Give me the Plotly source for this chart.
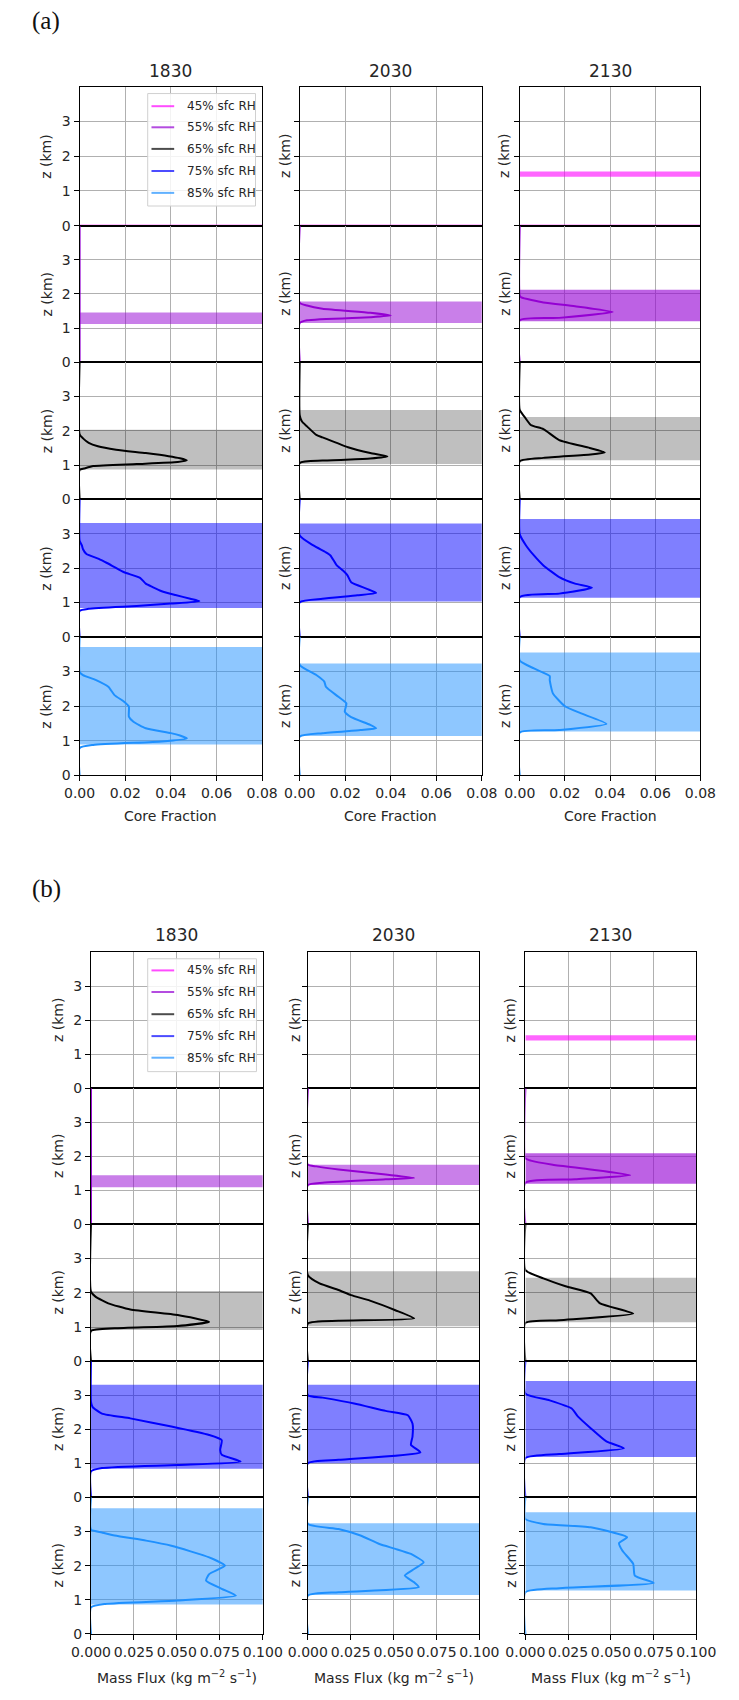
import plotly.graph_objects as go

W, H = 739, 1700

# ---------------- data ----------------
times = ["1830", "2030", "2130"]
rh_labels = ["45% sfc RH", "55% sfc RH", "65% sfc RH", "75% sfc RH", "85% sfc RH"]
line_colors = ["#ff00ff", "#9400d3", "#000000", "#0000ff", "#1e90ff"]
legend_colors = ["rgba(255,0,255,0.7)", "rgba(148,0,211,0.7)", "rgba(0,0,0,0.7)",
                 "rgba(0,0,255,0.7)", "rgba(30,144,255,0.7)"]
band_colors = ["rgba(255,0,255,0.6)", "rgba(148,0,211,0.5)", "rgba(0,0,0,0.25)",
               "rgba(0,0,255,0.5)", "rgba(30,144,255,0.5)"]
band_colors_late = ["rgba(255,0,255,0.6)", "rgba(148,0,211,0.62)", "rgba(0,0,0,0.25)",
                    "rgba(0,0,255,0.5)", "rgba(30,144,255,0.5)"]

cf_ticks = [0, 0.02, 0.04, 0.06, 0.08]
cf_tick_text = ["0.00", "0.02", "0.04", "0.06", "0.08"]
mf_ticks = [0, 0.025, 0.05, 0.075, 0.1]
mf_tick_text = ["0.000", "0.025", "0.050", "0.075", "0.100"]
z_ticks = [0, 1, 2, 3]

# profiles with no cloud: zero everywhere
zero_z = [0, 4]
zero_v = [0, 0]
# 45% RH profile collapses onto the surface
flat_z = [0, 0]
flat_v = [0, 0.1]

# cloud layer bands (base, top) in km, rows = 45,55,65,75,85 % RH
cf_base_1830 = [None, 1.12, 0.87, 0.84, 0.89]
cf_top_1830 = [None, 1.46, 2.03, 3.31, 3.71]
cf_base_2030 = [None, 1.15, 1.03, 1.03, 1.14]
cf_top_2030 = [None, 1.78, 2.61, 3.30, 3.23]
cf_base_2130 = [1.41, 1.20, 1.14, 1.14, 1.27]
cf_top_2130 = [1.56, 2.12, 2.40, 3.43, 3.55]
mf_base_1830 = [None, 1.09, 0.91, 0.84, 0.86]
mf_top_1830 = [None, 1.44, 2.05, 3.31, 3.68]
mf_base_2030 = [None, 1.15, 1.02, 1.00, 1.14]
mf_top_2030 = [None, 1.75, 2.63, 3.31, 3.24]
mf_base_2130 = [1.40, 1.19, 1.14, 1.18, 1.27]
mf_top_2130 = [1.56, 2.09, 2.44, 3.42, 3.56]

# core fraction profiles
cf_1830_65_z = [0, 0.86, 0.90, 0.97, 1.03, 1.09, 1.14, 1.20, 1.26, 1.35, 1.45, 1.55, 1.65, 1.78, 1.90, 4]
cf_1830_65_v = [0, 0, 0.002, 0.006, 0.025, 0.043, 0.047, 0.044, 0.039, 0.029, 0.016, 0.008, 0.004, 0.0015, 0, 0]
cf_1830_75_z = [0, 0.76, 0.82, 0.90, 0.97, 1.04, 1.11, 1.22, 1.33, 1.45, 1.55, 1.72, 1.88, 2.03, 2.15, 2.27, 2.41, 2.55, 2.66, 2.80, 4]
cf_1830_75_v = [0, 0, 0.004, 0.025, 0.040, 0.0525, 0.0485, 0.042, 0.036, 0.032, 0.029, 0.0265, 0.0195, 0.0153, 0.012, 0.0084, 0.003, 0.0015, 0.001, 0, 0]
cf_1830_85_z = [0, 0.79, 0.88, 0.98, 1.07, 1.15, 1.22, 1.36, 1.55, 1.70, 1.99, 2.13, 2.32, 2.56, 2.76, 2.90, 2.99, 4]
cf_1830_85_v = [0, 0, 0.006, 0.036, 0.047, 0.044, 0.040, 0.029, 0.0236, 0.0216, 0.0216, 0.0195, 0.0153, 0.0126, 0.007, 0.0015, 0, 0]

cf_2030_55_z = [0, 1.15, 1.23, 1.32, 1.37, 1.45, 1.57, 1.66, 1.74, 4]
cf_2030_55_v = [0, 0, 0.0032, 0.031, 0.040, 0.031, 0.010, 0.0032, 0, 0]
cf_2030_65_z = [0, 1.06, 1.13, 1.19, 1.25, 1.35, 1.52, 1.81, 1.88, 2.13, 2.27, 2.46, 4]
cf_2030_65_v = [0, 0, 0.010, 0.031, 0.0385, 0.031, 0.0212, 0.010, 0.0073, 0.0032, 0.001, 0, 0]
cf_2030_75_z = [0, 1.01, 1.11, 1.21, 1.28, 1.40, 1.59, 1.79, 1.93, 2.08, 2.37, 2.46, 2.66, 2.95, 4]
cf_2030_75_v = [0, 0, 0.010, 0.0253, 0.0336, 0.0295, 0.0226, 0.021, 0.019, 0.0163, 0.0135, 0.0115, 0.006, 0, 0]
cf_2030_85_z = [0, 1.12, 1.22, 1.31, 1.36, 1.46, 1.68, 1.84, 2.08, 2.27, 2.56, 2.71, 2.90, 3.19, 4]
cf_2030_85_v = [0, 0, 0.010, 0.0267, 0.0336, 0.031, 0.0226, 0.0198, 0.0205, 0.017, 0.0115, 0.0108, 0.0073, 0, 0]

cf_2130_55_z = [0, 1.23, 1.30, 1.47, 1.64, 1.75, 1.90, 1.95, 4]
cf_2130_55_v = [0, 0, 0.0175, 0.0412, 0.0245, 0.0105, 0.0007, 0, 0]
cf_2130_65_z = [0, 1.11, 1.21, 1.31, 1.37, 1.50, 1.73, 2.05, 2.17, 2.42, 2.61, 4]
cf_2130_65_v = [0, 0, 0.0105, 0.0314, 0.0377, 0.031, 0.0175, 0.0105, 0.0049, 0.002, 0, 0]
cf_2130_75_z = [0, 1.16, 1.26, 1.43, 1.55, 1.74, 2.08, 2.37, 2.66, 2.99, 4]
cf_2130_75_v = [0, 0, 0.0175, 0.032, 0.0245, 0.0175, 0.0105, 0.0063, 0.0028, 0, 0]
cf_2130_85_z = [0, 1.24, 1.31, 1.49, 1.79, 1.99, 2.37, 2.75, 2.87, 3.09, 3.32, 4]
cf_2130_85_v = [0, 0, 0.0175, 0.0384, 0.0272, 0.0202, 0.0147, 0.0133, 0.0133, 0.0063, 0, 0]

# mass flux profiles
mf_1830_65_z = [0, 0.88, 0.96, 1.03, 1.15, 1.35, 1.51, 1.69, 1.88, 2.03, 4]
mf_1830_65_v = [0, 0, 0.0138, 0.0505, 0.0688, 0.0505, 0.0229, 0.0101, 0.0028, 0, 0]
mf_1830_75_z = [0, 0.76, 0.86, 0.95, 1.05, 1.25, 1.39, 1.68, 1.83, 2.08, 2.32, 2.46, 2.66, 2.81, 4]
mf_1830_75_v = [0, 0, 0.0064, 0.0505, 0.0871, 0.0761, 0.0752, 0.0761, 0.0688, 0.0468, 0.0229, 0.0064, 0.0009, 0, 0]
mf_1830_85_z = [0, 0.78, 0.88, 0.98, 1.12, 1.32, 1.56, 1.75, 2.00, 2.24, 2.58, 2.73, 2.88, 2.97, 3.05, 4]
mf_1830_85_v = [0, 0, 0.0083, 0.0505, 0.0844, 0.0761, 0.0670, 0.0688, 0.0780, 0.0688, 0.0468, 0.0321, 0.0138, 0.0064, 0, 0]

mf_2030_55_z = [0, 1.15, 1.22, 1.32, 1.36, 1.46, 1.61, 1.70, 1.75, 4]
mf_2030_55_v = [0, 0, 0.0086, 0.0454, 0.062, 0.0454, 0.0179, 0.005, 0, 0]
mf_2030_65_z = [0, 1.10, 1.18, 1.25, 1.49, 1.77, 1.93, 2.08, 2.27, 2.51, 4]
mf_2030_65_v = [0, 0, 0.0179, 0.062, 0.051, 0.0362, 0.0252, 0.0179, 0.0068, 0, 0]
mf_2030_75_z = [0, 1.00, 1.10, 1.32, 1.54, 1.78, 2.17, 2.41, 2.54, 2.76, 2.93, 3.0, 4]
mf_2030_75_v = [0, 0, 0.0179, 0.0656, 0.0601, 0.061, 0.061, 0.0583, 0.0454, 0.027, 0.0086, 0, 0]
mf_2030_85_z = [0, 1.12, 1.22, 1.37, 1.51, 1.71, 1.90, 2.10, 2.34, 2.49, 2.63, 2.88, 3.07, 3.22, 4]
mf_2030_85_v = [0, 0, 0.0179, 0.0647, 0.062, 0.0565, 0.062, 0.0675, 0.0601, 0.051, 0.0417, 0.0307, 0.0179, 0, 0]

mf_2130_55_z = [0, 1.22, 1.32, 1.44, 1.61, 1.75, 1.87, 1.94, 4]
mf_2130_55_v = [0, 0, 0.029, 0.0613, 0.0382, 0.016, 0.0032, 0, 0]
mf_2130_65_z = [0, 1.12, 1.20, 1.39, 1.69, 1.98, 2.19, 2.42, 2.66, 4]
mf_2130_65_v = [0, 0, 0.0198, 0.0631, 0.0437, 0.0382, 0.0235, 0.0105, 0, 0]
mf_2130_75_z = [0, 1.15, 1.27, 1.44, 1.64, 2.03, 2.37, 2.61, 2.85, 3.05, 4]
mf_2130_75_v = [0, 0, 0.0198, 0.0576, 0.0474, 0.0382, 0.0308, 0.0271, 0.0142, 0, 0]
mf_2130_85_z = [0, 1.22, 1.34, 1.49, 1.71, 2.05, 2.44, 2.66, 2.83, 3.12, 3.22, 3.36, 4]
mf_2130_85_v = [0, 0, 0.0198, 0.0751, 0.064, 0.0631, 0.0567, 0.0548, 0.0595, 0.0382, 0.0105, 0, 0]

# ---------------- tables built from the arrays ----------------
cf_profiles = [
    [(flat_z, flat_v), (zero_z, zero_v), (cf_1830_65_z, cf_1830_65_v), (cf_1830_75_z, cf_1830_75_v), (cf_1830_85_z, cf_1830_85_v)],
    [(flat_z, flat_v), (cf_2030_55_z, cf_2030_55_v), (cf_2030_65_z, cf_2030_65_v), (cf_2030_75_z, cf_2030_75_v), (cf_2030_85_z, cf_2030_85_v)],
    [(flat_z, flat_v), (cf_2130_55_z, cf_2130_55_v), (cf_2130_65_z, cf_2130_65_v), (cf_2130_75_z, cf_2130_75_v), (cf_2130_85_z, cf_2130_85_v)],
]
mf_profiles = [
    [(flat_z, flat_v), (zero_z, zero_v), (mf_1830_65_z, mf_1830_65_v), (mf_1830_75_z, mf_1830_75_v), (mf_1830_85_z, mf_1830_85_v)],
    [(flat_z, flat_v), (mf_2030_55_z, mf_2030_55_v), (mf_2030_65_z, mf_2030_65_v), (mf_2030_75_z, mf_2030_75_v), (mf_2030_85_z, mf_2030_85_v)],
    [(flat_z, flat_v), (mf_2130_55_z, mf_2130_55_v), (mf_2130_65_z, mf_2130_65_v), (mf_2130_75_z, mf_2130_75_v), (mf_2130_85_z, mf_2130_85_v)],
]
cf_bands = [(cf_base_1830, cf_top_1830), (cf_base_2030, cf_top_2030), (cf_base_2130, cf_top_2130)]
mf_bands = [(mf_base_1830, mf_top_1830), (mf_base_2030, mf_top_2030), (mf_base_2130, mf_top_2130)]

# ---------------- layout geometry (pixels) ----------------
panels = [
    dict(letter="(a)", letter_xy=(28, 21), title_y=71,
         cols=[(63, 256), (295.7, 488.3), (528.3, 719.3)],
         rows=[(87.3, 226.7), (226.7, 364), (364, 501.7), (501.7, 640), (640, 779)],
         zlabel_x=[28, 280, 512.5], xlabel_y=820, xlabel="Core Fraction",
         xmax=0.08, ticks=cf_ticks, ticktext=cf_tick_text,
         profiles=cf_profiles, bands=cf_bands,
         legend_box=(135, 94, 249, 207), legend_rows=[106.7, 127.9, 149.6, 171.8, 193.8]),
    dict(letter="(b)", letter_xy=(28, 893), title_y=939,
         cols=[(75, 256.7), (304.3, 485.7), (534.3, 715)],
         rows=[(956.7, 1093.3), (1093.3, 1230), (1230, 1367.7), (1367.7, 1504.3), (1504.3, 1641.7)],
         zlabel_x=[40, 290.5, 518.3], xlabel_y=1685,
         xlabel="Mass Flux (kg m<sup>−2</sup> s<sup>−1</sup>)",
         xmax=0.1, ticks=mf_ticks, ticktext=mf_tick_text,
         profiles=mf_profiles, bands=mf_bands,
         legend_box=(135, 963.3, 250, 1076.7), legend_rows=[975, 996.7, 1019, 1041, 1062.7]),
]

FONT = "DejaVu Sans"
TXT = "#262626"

fig = go.Figure()
axes = {}
shapes = []
annotations = []


def px(x):
    return x / W


def py(y):
    return 1 - y / H


k = 0
for p in panels:
    annotations.append(dict(text=p["letter"], x=px(p["letter_xy"][0]), y=py(p["letter_xy"][1]),
                            xref="paper", yref="paper", showarrow=False, xanchor="center", yanchor="middle",
                            font=dict(family="Liberation Serif", size=25, color="#111")))
    for c, (x0, x1) in enumerate(p["cols"]):
        annotations.append(dict(text=times[c], x=px((x0 + x1) / 2), y=py(p["title_y"]),
                                xref="paper", yref="paper", showarrow=False, xanchor="center", yanchor="middle",
                                font=dict(family=FONT, size=17, color=TXT)))
        annotations.append(dict(text=p["xlabel"], x=px((x0 + x1) / 2), y=py(p["xlabel_y"]),
                                xref="paper", yref="paper", showarrow=False, xanchor="center", yanchor="middle",
                                font=dict(family=FONT, size=14, color=TXT)))
        base, top = p["bands"][c]
        bcols = band_colors_late if c == 2 else band_colors
        for r, (y0, y1) in enumerate(p["rows"]):
            k += 1
            sfx = "" if k == 1 else str(k)
            bottom_row = (r == 4)
            axes["xaxis" + sfx] = dict(
                domain=[px(x0), px(x1)], anchor="y" + sfx, range=[0, p["xmax"]],
                tickvals=p["ticks"], ticktext=p["ticktext"], showticklabels=bottom_row,
                ticks="outside" if bottom_row else "", ticklen=5, tickcolor="black",
                showgrid=True, gridcolor="#b0b0b0", gridwidth=1,
                showline=True, mirror=True, linecolor="black", linewidth=1, zeroline=False,
                tickfont=dict(family=FONT, size=14, color=TXT), fixedrange=True)
            axes["yaxis" + sfx] = dict(
                domain=[py(y1), py(y0)], anchor="x" + sfx, range=[0, 4],
                tickvals=z_ticks, showticklabels=(c == 0),
                ticks="outside", ticklen=5, tickcolor="black",
                showgrid=True, gridcolor="#b0b0b0", gridwidth=1,
                showline=True, mirror=True, linecolor="black", linewidth=1, zeroline=False,
                tickfont=dict(family=FONT, size=14, color=TXT), fixedrange=True)
            annotations.append(dict(text="z (km)", x=px(p["zlabel_x"][c]), y=py((y0 + y1) / 2),
                                    xref="paper", yref="paper", showarrow=False, textangle=-90,
                                    xanchor="center", yanchor="middle",
                                    font=dict(family=FONT, size=14, color=TXT)))
            if base[r] is not None:
                xm = p["xmax"]
                fig.add_trace(go.Scatter(
                    x=[0, xm, xm, 0, 0], y=[base[r], base[r], top[r], top[r], base[r]],
                    xaxis="x" + sfx, yaxis="y" + sfx, mode="lines", fill="toself",
                    fillcolor=bcols[r], line=dict(width=0), showlegend=False, hoverinfo="skip"))
            zz, vv = p["profiles"][c][r]
            fig.add_trace(go.Scatter(x=vv, y=zz, xaxis="x" + sfx, yaxis="y" + sfx, mode="lines",
                                     line=dict(color=line_colors[r], width=2, shape="spline", smoothing=0.5),
                                     showlegend=False, hoverinfo="skip"))
    # legend
    lx0, ly0, lx1, ly1 = p["legend_box"]
    shapes.append(dict(type="rect", xref="paper", yref="paper", x0=px(lx0), x1=px(lx1),
                       y0=py(ly1), y1=py(ly0), fillcolor="rgba(255,255,255,0.85)",
                       line=dict(color="#d0d0d0", width=1)))
    for i, ly in enumerate(p["legend_rows"]):
        shapes.append(dict(type="line", xref="paper", yref="paper", x0=px(lx0 + 4), x1=px(lx0 + 28),
                           y0=py(ly), y1=py(ly), line=dict(color=legend_colors[i], width=2)))
        annotations.append(dict(text=rh_labels[i], x=px(lx0 + 39), y=py(ly), xref="paper", yref="paper",
                                showarrow=False, xanchor="left", yanchor="middle",
                                font=dict(family=FONT, size=12, color=TXT)))

fig.update_layout(**axes)
fig.update_layout(width=W, height=H, margin=dict(l=0, r=0, t=0, b=0),
                  plot_bgcolor="white", paper_bgcolor="white", showlegend=False,
                  shapes=shapes, annotations=annotations)
fig.write_html("out.html")
